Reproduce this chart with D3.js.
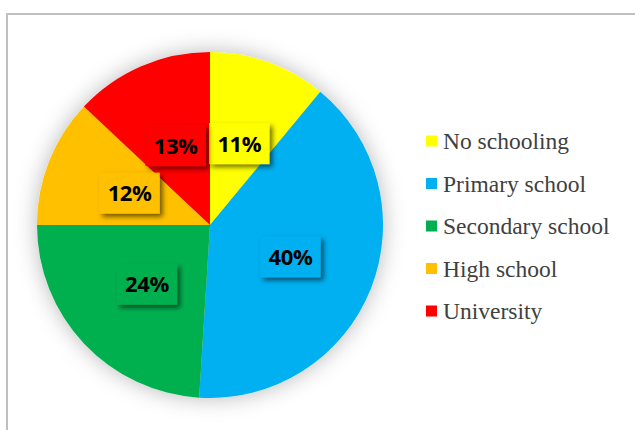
<!DOCTYPE html>
<html>
<head>
<meta charset="utf-8">
<script src="https://cdn.jsdelivr.net/npm/d3@7/dist/d3.min.js"></script>
<style>
  html, body { margin: 0; padding: 0; background: #fff; }
  svg { display: block; }
</style>
</head>
<body>
<script>
// Education level distribution
const categories = ["No schooling", "Primary school", "Secondary school", "High school", "University"];
const values = [11, 40, 24, 12, 13];
const colors = ["#FFFF00", "#00B0F0", "#00B050", "#FFC000", "#FF0000"];

const W = 635, H = 430;
const cx = 210, cy = 225, R = 173;

const svg = d3.select("body").append("svg")
  .attr("width", W).attr("height", H);

const defs = svg.append("defs");
// soft halo behind the pie
const halo = defs.append("filter").attr("id", "halo")
  .attr("x", "-30%").attr("y", "-30%").attr("width", "160%").attr("height", "160%");
halo.append("feDropShadow").attr("dx", 0).attr("dy", 0)
  .attr("stdDeviation", 11).attr("flood-color", "#000").attr("flood-opacity", 0.28);
// drop shadow under the data labels
const lblShadow = defs.append("filter").attr("id", "lblShadow")
  .attr("x", "-30%").attr("y", "-30%").attr("width", "160%").attr("height", "160%");
lblShadow.append("feDropShadow").attr("dx", 3).attr("dy", 3)
  .attr("stdDeviation", 2.5).attr("flood-color", "#000").attr("flood-opacity", 0.55);

// chart frame
svg.append("path")
  .attr("d", `M7,${H + 5} L7,14 L${W + 5},14`)
  .attr("fill", "none").attr("stroke", "#bfbfbf").attr("stroke-width", 2);

const data = categories.map((c, i) => ({ name: c, value: values[i], color: colors[i] }));

const pie = d3.pie().value(d => d.value).sort(null);
const arcs = pie(data);
const arc = d3.arc().innerRadius(0).outerRadius(R);
const labelArc = d3.arc().innerRadius(R * 0.5).outerRadius(R * 0.5);

const g = svg.append("g").attr("transform", `translate(${cx},${cy})`);

g.append("g").attr("filter", "url(#halo)")
  .selectAll("path").data(arcs).join("path")
  .attr("d", arc)
  .attr("fill", d => d.data.color);

// data labels with coloured boxes sized to their text
const lbl = g.selectAll("g.lbl").data(arcs).join("g")
  .attr("class", "lbl")
  .attr("transform", d => `translate(${labelArc.centroid(d)})`);

const box = lbl.append("rect")
  .attr("fill", d => d.data.color)
  .attr("filter", "url(#lblShadow)");

const txt = lbl.append("text")
  .attr("text-anchor", "middle")
  .attr("dy", "0.36em")
  .attr("font-family", "'Open Sans', sans-serif")
  .attr("font-weight", "bold")
  .attr("font-size", 22)
  .attr("letter-spacing", -0.4)
  .attr("fill", "#000")
  .text(d => d.data.value + "%");

txt.each(function () {
  const b = this.getBBox();
  const w = b.width + 16, h = 41;
  d3.select(this.parentNode).select("rect")
    .attr("x", -w / 2).attr("y", -h / 2)
    .attr("width", w).attr("height", h);
});

// legend
const legend = svg.append("g").attr("transform", "translate(426,141)");
const row = legend.selectAll("g").data(data).join("g")
  .attr("transform", (d, i) => `translate(0,${i * 42.5})`);
row.append("rect")
  .attr("x", 0).attr("y", -5.5).attr("width", 11).attr("height", 11)
  .attr("fill", d => d.color);
row.append("text")
  .attr("x", 17).attr("dy", "0.34em")
  .attr("font-family", "'Liberation Serif', 'Times New Roman', serif")
  .attr("font-size", 23.5)
  .attr("fill", "#404040")
  .text(d => d.name);
</script>
</body>
</html>
